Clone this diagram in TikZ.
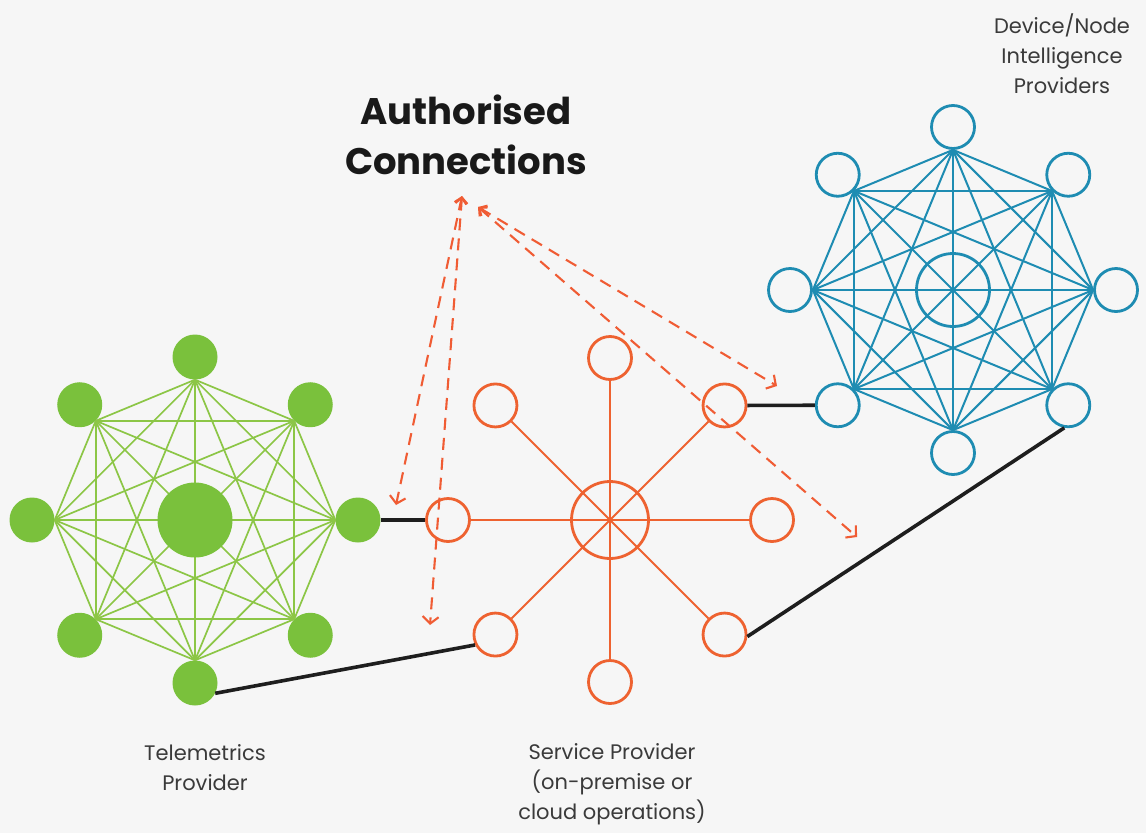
\documentclass[tikz,border=0pt]{standalone}
\usepackage{fontspec}
\setmainfont{Poppins}
\usetikzlibrary{arrows.meta}
\definecolor{bgcol}{RGB}{246,246,246}
\definecolor{tgreen}{RGB}{122,193,60}
\definecolor{tgreenl}{RGB}{140,198,70}
\definecolor{tblue}{RGB}{30,140,178}
\definecolor{torange}{RGB}{238,98,48}
\definecolor{tred}{RGB}{240,92,52}
\definecolor{textgray}{RGB}{58,58,58}
\definecolor{bridgecol}{RGB}{30,30,30}
\begin{document}
\begin{tikzpicture}[x=1pt,y=-1pt,
  gnode/.style={circle, fill=tgreen, inner sep=0pt, minimum size=45pt},
  gcore/.style={circle, fill=tgreen, inner sep=0pt, minimum size=75pt},
  bnode/.style={circle, draw=tblue, line width=2.8pt, inner sep=0pt, minimum size=43pt},
  bcore/.style={circle, draw=tblue, line width=2.8pt, inner sep=0pt, minimum size=73pt},
  onode/.style={circle, draw=torange, line width=2.8pt, inner sep=0pt, minimum size=43pt},
  ocore/.style={circle, draw=torange, line width=2.8pt, inner sep=0pt, minimum size=77pt},
  glink/.style={draw=tgreenl, line width=1.7pt},
  blink/.style={draw=tblue, line width=2pt},
  olink/.style={draw=torange, line width=2pt},
  bridge/.style={draw=bridgecol, line width=3.6pt},
  authlink/.style={draw=tred, line width=2.1pt, dash pattern=on 12pt off 8pt,
    arrows={Straight Barb[length=6pt,width=12pt]-Straight Barb[length=7pt,width=16pt]}},
  caption/.style={text=textgray, font=\fontsize{21}{30}\selectfont, align=center},
  heading/.style={text=black!90, font=\fontsize{37}{50}\selectfont\bfseries, align=center}
]
\fill[bgcol] (0,0) rectangle (1146,833);
\useasboundingbox (0,0) rectangle (1146,833);

% ---------- Telemetrics provider: fully meshed, filled ----------
\foreach \i in {0,...,7}
  \node[gnode] (g\i) at ({195+163*cos(\i*45)},{520-163*sin(\i*45)}) {};
\foreach \i in {0,...,6}{
  \pgfmathtruncatemacro\ai{mod(\i*45+180,360)}
  \pgfmathtruncatemacro\k{\i+1}
  \foreach \j in {\k,...,7}{
    \pgfmathtruncatemacro\aj{mod(\j*45+180,360)}
    \draw[glink] (g\i.\ai) -- (g\j.\aj);
  }
}
\node[gcore] (gc) at (195,520) {};

% ---------- Device/Node intelligence providers: fully meshed, open ----------
\foreach \i in {0,...,7}
  \node[bnode] (b\i) at ({953+163*cos(\i*45)},{290-163*sin(\i*45)}) {};
\foreach \i in {0,...,6}{
  \pgfmathtruncatemacro\ai{mod(\i*45+180,360)}
  \pgfmathtruncatemacro\k{\i+1}
  \foreach \j in {\k,...,7}{
    \pgfmathtruncatemacro\aj{mod(\j*45+180,360)}
    \draw[blink] (b\i.\ai) -- (b\j.\aj);
  }
}
\node[bcore] (bc) at (953,290) {};

% ---------- Service provider: hub and spokes ----------
\node[ocore] (oc) at (610,520) {};
\foreach \i in {0,...,7}{
  \node[onode] (o\i) at ({610+162*cos(\i*45)},{520-162*sin(\i*45)}) {};
  \pgfmathtruncatemacro\ai{mod(\i*45+180,360)}
  \draw[olink] (oc.center) -- (o\i.\ai);
}

% ---------- links between providers ----------
\draw[bridge] (g0.east) -- (o4.west);
\draw[bridge] (g6.-27) -- (o5.207);
\draw[bridge] (o1.east) -- (b5.west);
\draw[bridge] (o7.-5) -- (b7.-100);

% ---------- authorised connections ----------
\coordinate (s1) at (462,196);
\coordinate (s2) at (478,207);
\coordinate (e1) at (396,505);
\coordinate (e2) at (430,625);
\coordinate (e3) at (777,386);
\coordinate (e4) at (857,537);
\draw[authlink] (s1) -- (e1);
\draw[authlink] (s1) -- (e2);
\draw[authlink] (s2) -- (e3);
\draw[authlink] (s2) -- (e4);

% ---------- texts ----------
\node[heading] (title) at (466,135) {Authorised\\Connections};
\node[caption] (tlabel) at (205,768) {Telemetrics\\Provider};
\node[caption] (slabel) at (612,784) {Service Provider\\(on-premise or\\cloud operations)};
\node[caption] (dlabel) at (1062,54) {Device/Node\\Intelligence\\Providers};
\end{tikzpicture}
\end{document}
